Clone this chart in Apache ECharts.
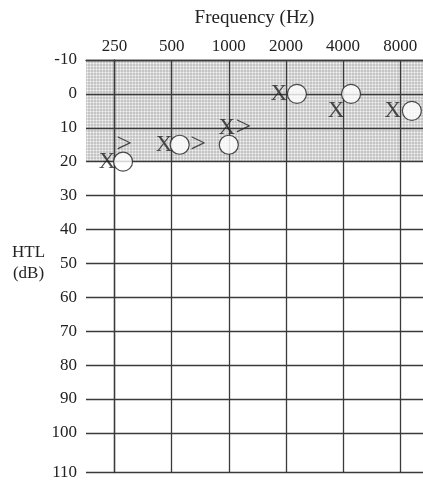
<!DOCTYPE html>
<html>
<head>
<meta charset="utf-8">
<script src="https://cdn.jsdelivr.net/npm/echarts@6/dist/echarts.min.js"></script>
<style>
  html, body { margin: 0; padding: 0; background: #fff; }
  #chart { width: 423px; height: 481px; }
</style>
</head>
<body>
<div id="chart"></div>
<script>
// Audiogram: hearing threshold level per test frequency
const freqLabels = ['250', '500', '1000', '2000', '4000', '8000'];
const yTickValues = [-10, 0, 10, 20, 30, 40, 50, 60, 70, 80, 90, 100];
const yBottomLabel = '110';

// Right ear, air conduction (O)
const rightAir = [20, 15, 15, 0, 0, 5];
// Left ear, air conduction (X)
const leftAir = [20, 15, 10, 0, 5, 5];
// Left ear, bone conduction (>) at 250, 500, 1000 Hz
const leftBone = [15, 15, 10];

// Normal-hearing band
const normalBand = [-10, 20];

// Horizontal pixel nudges so symbols sit beside the frequency line
const rightAirNudge = [8.5, 8, 0, 11, 8, 11.7];
const leftAirNudge = [-7.5, -7.5, -2, -7, -7, -7.3];
const leftBoneNudge = [9.5, 26.5, 14.5];

const Y_MIN = -10;
const Y_MAX = 111.7;

// fine dotted texture for the shaded band
function makeTexture() {
  const c = document.createElement('canvas');
  c.width = 3; c.height = 3;
  const g = c.getContext('2d');
  g.fillStyle = '#c4c4c4';
  g.fillRect(0, 0, 3, 3);
  g.fillStyle = '#dcdcdc';
  g.fillRect(0, 0, 3, 1);
  g.fillRect(0, 0, 1, 3);
  g.fillStyle = '#f2f2f2';
  g.fillRect(0, 0, 1, 1);
  return c;
}

const serif = '"Liberation Serif", "DejaVu Serif", serif';
const textColor = '#222';
const gridColor = '#3a3a3a';
const gridWidth = 1.3;

const chart = echarts.init(document.getElementById('chart'), null, { renderer: 'canvas' });

function textSeries(name, values, glyph, size, nudges) {
  return {
    name: name,
    type: 'scatter',
    z: 5,
    symbol: 'circle',
    symbolSize: 1,
    itemStyle: { color: 'rgba(0,0,0,0)' },
    silent: true,
    label: {
      show: true,
      position: 'inside',
      formatter: glyph,
      fontFamily: serif,
      fontSize: size,
      color: textColor
    },
    data: values.map((v, i) => ({
      value: [i, v],
      label: { offset: [nudges[i], 0] }
    }))
  };
}

chart.setOption({
  animation: false,
  grid: { left: 86, right: 0, top: 60, bottom: 4.3, containLabel: false },
  xAxis: {
    type: 'value',
    position: 'top',
    min: -0.5,
    max: 5.4,
    z: 3,
    name: 'Frequency (Hz)',
    nameLocation: 'middle',
    nameGap: 32,
    nameTextStyle: { fontFamily: serif, fontSize: 19, color: textColor },
    axisLine: { show: true, onZero: false, lineStyle: { color: gridColor, width: gridWidth } },
    axisTick: { show: false, customValues: freqLabels.map((_, i) => i) },
    axisLabel: {
      customValues: freqLabels.map((_, i) => i),
      formatter: v => freqLabels[Math.round(v)],
      fontFamily: serif,
      fontSize: 17,
      color: textColor,
      margin: 5
    },
    splitLine: { show: true, lineStyle: { color: gridColor, width: gridWidth } }
  },
  yAxis: {
    type: 'value',
    inverse: true,
    min: Y_MIN,
    max: Y_MAX,
    z: 3,
    axisLine: { show: true, lineStyle: { color: gridColor, width: gridWidth } },
    axisTick: { show: false, customValues: yTickValues.concat([Y_MAX]) },
    axisLabel: {
      customValues: yTickValues.concat([Y_MAX]),
      formatter: v => (v > 105 ? yBottomLabel : String(v)),
      fontFamily: serif,
      fontSize: 17,
      color: textColor,
      margin: 9
    },
    splitLine: { show: true, lineStyle: { color: gridColor, width: gridWidth } }
  },
  graphic: [{
    type: 'text',
    left: 12,
    top: 242,
    style: {
      text: 'HTL\n(dB)',
      font: '17px ' + serif,
      fill: textColor,
      textAlign: 'center',
      lineHeight: 21,
      x: 18
    }
  }],
  series: [
    {
      name: 'normal range',
      type: 'scatter',
      z: 1,
      data: [],
      markArea: {
        silent: true,
        itemStyle: { color: { image: makeTexture(), repeat: 'repeat' } },
        data: [[{ yAxis: normalBand[0] }, { yAxis: normalBand[1] }]]
      }
    },
    textSeries('left air', leftAir, 'X', 23, leftAirNudge),
    textSeries('left bone', leftBone, '>', 28, leftBoneNudge),
    {
      name: 'right air',
      type: 'scatter',
      z: 6,
      symbol: 'circle',
      symbolSize: 19,
      itemStyle: { color: '#fff', borderColor: '#222', borderWidth: 1.2 },
      data: rightAir.map((v, i) => ({ value: [i, v], symbolOffset: [rightAirNudge[i], 0] }))
    }
  ]
});
</script>
</body>
</html>
